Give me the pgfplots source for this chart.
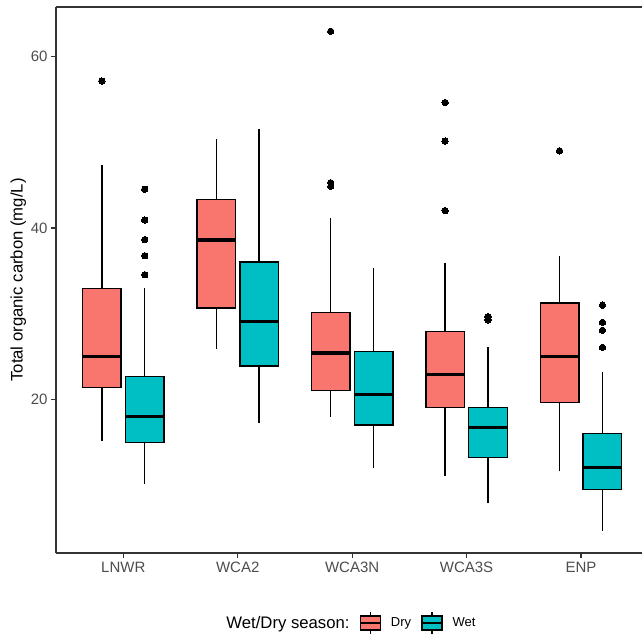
\documentclass[border=0pt]{standalone}
\usepackage{fontspec}
\setmainfont{Liberation Sans}
\usepackage{pgfplots}
\pgfplotsset{compat=1.18}
\usepgfplotslibrary{statistics}
\definecolor{dryc}{HTML}{F8766D}
\definecolor{wetc}{HTML}{00BFC4}
\definecolor{axc}{HTML}{333333}
\definecolor{tlc}{HTML}{4D4D4D}
\pgfplotsset{
  bx/.style={line width=1.4pt, draw=black, mark=*, mark size=3.2pt,
    mark options={solid, fill=black, draw=black, line width=0pt},
    boxplot/draw direction=y,
    boxplot/box extend=0.3375, boxplot/whisker extend=0,
    boxplot/every median/.style={line width=3.4pt},
    forget plot},
  dry/.style={bx, fill=dryc},
  wet/.style={bx, fill=wetc},
}
\begin{document}
\begin{tikzpicture}
\path[use as bounding box] (-56pt,-81.7pt) rectangle (586pt,553.3pt);
\begin{axis}[
  at={(0pt,0pt)}, anchor=south west, scale only axis,
  width=586pt, height=546.6pt,
  xmin=0.412, xmax=5.533, ymin=2.02, ymax=65.84,
  axis x line*=box, axis y line*=left,
  axis line style={line width=1.8pt, draw=axc},
  xtick={1,2,3,4,5}, xticklabels={LNWR,WCA2,WCA3N,WCA3S,ENP},
  ytick={20,40,60}, yticklabels={20,40,60},
  xtick pos=left, ytick pos=left,
  tick align=outside, major tick length=5pt,
  every tick/.style={line width=1.2pt, draw=axc},
  /pgf/number format/assume math mode=true,
  ticklabel style={font=\fontsize{15}{18}\selectfont, text=tlc},
  ylabel={Total organic carbon (mg/L)},
  every axis y label/.style={at={(axis description cs:-0.0642,0.5)}, rotate=90, anchor=center, font=\fontsize{16.7}{20}\selectfont},
  legend style={at={(axis description cs:0.4965,-0.1275)}, anchor=center, draw=none, fill=none,
    legend columns=-1, font=\fontsize{13}{16}\selectfont,
    /tikz/every even column/.append style={column sep=8pt},
    /tikz/every odd column/.append style={column sep=8pt}},
]
\addlegendimage{empty legend}
\addlegendentry{\fontsize{16.7}{20}\selectfont Wet/Dry season:\hspace{12pt}}
\addlegendimage{legend image code/.code={
  \draw[black, line width=1.4pt] (10pt,7pt)--(10pt,11pt);
  \draw[black, line width=1.4pt] (10pt,-7pt)--(10pt,-11pt);
  \draw[black, line width=1.4pt, fill=dryc] (0pt,-7pt) rectangle (20pt,7pt);
  \draw[black, line width=1.4pt] (0pt,0pt)--(20pt,0pt);}}
\addlegendentry{Dry}
\addlegendimage{legend image code/.code={
  \draw[black, line width=1.4pt] (10pt,7pt)--(10pt,11pt);
  \draw[black, line width=1.4pt] (10pt,-7pt)--(10pt,-11pt);
  \draw[black, line width=1.4pt, fill=wetc] (0pt,-7pt) rectangle (20pt,7pt);
  \draw[black, line width=1.4pt] (0pt,0pt)--(20pt,0pt);}}
\addlegendentry{Wet}

% LNWR
\addplot[dry, boxplot prepared={draw position=0.8125, lower whisker=15.19, lower quartile=21.38, median=25.01, upper quartile=32.91, upper whisker=47.38}]
  table[row sep=\\, y index=0] {57.16\\};
\addplot[wet, boxplot prepared={draw position=1.1875, lower whisker=10.17, lower quartile=14.98, median=17.99, upper quartile=22.67, upper whisker=33.0}]
  table[row sep=\\, y index=0] {44.53\\ 40.94\\ 38.64\\ 36.76\\ 34.54\\};
% WCA2
\addplot[dry, boxplot prepared={draw position=1.8125, lower whisker=25.93, lower quartile=30.66, median=38.6, upper quartile=43.36, upper whisker=50.39}]
  coordinates {};
\addplot[wet, boxplot prepared={draw position=2.1875, lower whisker=17.2, lower quartile=23.88, median=29.07, upper quartile=36.05, upper whisker=51.56}]
  coordinates {};
% WCA3N
\addplot[dry, boxplot prepared={draw position=2.8125, lower whisker=17.99, lower quartile=21.04, median=25.39, upper quartile=30.16, upper whisker=41.19}]
  table[row sep=\\, y index=0] {62.97\\ 45.29\\ 44.87\\};
\addplot[wet, boxplot prepared={draw position=3.1875, lower whisker=12.01, lower quartile=16.99, median=20.58, upper quartile=25.56, upper whisker=35.34}]
  coordinates {};
% WCA3S
\addplot[dry, boxplot prepared={draw position=3.8125, lower whisker=11.01, lower quartile=19.04, median=22.88, upper quartile=27.94, upper whisker=35.88}]
  table[row sep=\\, y index=0] {54.65\\ 50.14\\ 42.03\\};
\addplot[wet, boxplot prepared={draw position=4.1875, lower whisker=7.92, lower quartile=13.18, median=16.74, upper quartile=19.04, upper whisker=26.06}]
  table[row sep=\\, y index=0] {29.65\\ 29.28\\};
% ENP
\addplot[dry, boxplot prepared={draw position=4.8125, lower whisker=11.6, lower quartile=19.62, median=24.97, upper quartile=31.24, upper whisker=36.72}]
  table[row sep=\\, y index=0] {49.01\\};
\addplot[wet, boxplot prepared={draw position=5.1875, lower whisker=4.66, lower quartile=9.5, median=12.01, upper quartile=16.03, upper whisker=23.13}]
  table[row sep=\\, y index=0] {30.99\\ 28.98\\ 28.06\\ 26.06\\};
\end{axis}
\end{tikzpicture}
\end{document}
